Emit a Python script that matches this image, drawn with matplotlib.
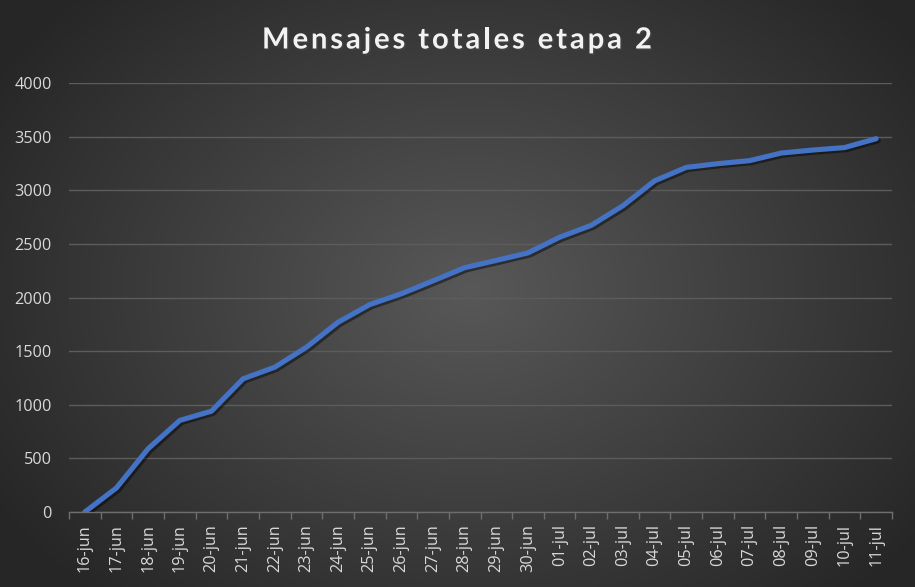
import numpy as np
import matplotlib
matplotlib.use("Agg")
import matplotlib.pyplot as plt
import matplotlib.patheffects as pe

dates = ["16-jun", "17-jun", "18-jun", "19-jun", "20-jun", "21-jun", "22-jun", "23-jun",
         "24-jun", "25-jun", "26-jun", "27-jun", "28-jun", "29-jun", "30-jun", "01-jul",
         "02-jul", "03-jul", "04-jul", "05-jul", "06-jul", "07-jul", "08-jul", "09-jul",
         "10-jul", "11-jul"]
mensajes = [0, 225, 590, 854, 940, 1242, 1350, 1536, 1769, 1934, 2035, 2155, 2278, 2346,
            2416, 2562, 2673, 2856, 3088, 3213, 3248, 3276, 3347, 3375, 3398, 3481]
yticks = [0, 500, 1000, 1500, 2000, 2500, 3000, 3500, 4000]
title = "Mensajes totales etapa 2"

W, H = 915, 587
fig = plt.figure(figsize=(W / 100, H / 100), dpi=100)

# radial gradient background
bg = fig.add_axes([0, 0, 1, 1], zorder=-10)
yy, xx = np.mgrid[0:H, 0:W]
cx, cy = 470, 290
r = np.sqrt(((xx - cx) / 560.0) ** 2 + ((yy - cy) / 420.0) ** 2)
r = np.clip(r, 0, 1)
c_in, c_out = 0x58 / 255, 0x26 / 255
img = c_in + (c_out - c_in) * r
bg.imshow(np.dstack([img, img, img]), aspect="auto", extent=[0, 1, 0, 1], origin="upper")
bg.axis("off")

left, right, top, bottom = 69, 892, 83, 512
ax = fig.add_axes([left / W, 1 - bottom / H, (right - left) / W, (bottom - top) / H])
ax.patch.set_alpha(0)

x = np.arange(len(dates))
ax.plot(x, mensajes, color="#4472C4", lw=3.7, solid_capstyle="round", solid_joinstyle="round",
        zorder=5,
        path_effects=[pe.SimpleLineShadow(offset=(1.5, -1.5), shadow_color="black", alpha=0.45),
                      pe.Normal()])

tick_font = dict(family="Open Sans", size=11.7)
ax.set_xlim(-0.5, len(dates) - 0.5)
ax.set_ylim(0, 4000)
ax.set_yticks(yticks)
ax.set_yticklabels([str(v) for v in yticks], fontdict=tick_font, color="#d9d9d9")
ax.yaxis.grid(True, color="#5c5c5c", lw=1.0)
ax.set_axisbelow(True)
ax.tick_params(axis="y", length=0, pad=12.5)

ax.set_xticks(x)
ax.set_xticklabels(dates, rotation=90, fontdict=tick_font, color="#d9d9d9")
ax.tick_params(axis="x", length=0, pad=8.5)
ax.set_xticks(np.arange(-0.5, len(dates)), minor=True)
ax.tick_params(axis="x", which="minor", length=5, color="#6e6e6e", width=1)

for s in ["top", "right", "left"]:
    ax.spines[s].set_visible(False)
ax.spines["bottom"].set_color("#6e6e6e")
ax.spines["bottom"].set_linewidth(1)

# letter-spaced title
renderer = fig.canvas.get_renderer()
tprops = dict(family="Lato", fontsize=21, fontweight="bold", color="#f2f2f2")

def text_width(s):
    t = fig.text(0, 0, s, **tprops)
    w = t.get_window_extent(renderer).width
    t.remove()
    return w

w_ref = text_width("M")
natural = [text_width(title[:i] + "M") - w_ref for i in range(len(title))]
total_nat = text_width(title)
target_w = 390.0
spacing = (target_w - total_nat) / (len(title) - 1)
x0 = 457 - target_w / 2
baseline = H - 48.5
for i, ch in enumerate(title):
    if ch == " ":
        continue
    fig.text((x0 + natural[i] + i * spacing) / W, baseline / H, ch, ha="left", va="baseline",
             path_effects=[pe.SimplePatchShadow(offset=(1.2, -1.2), alpha=0.5), pe.Normal()],
             **tprops)

fig.savefig("out.png", dpi=100)
